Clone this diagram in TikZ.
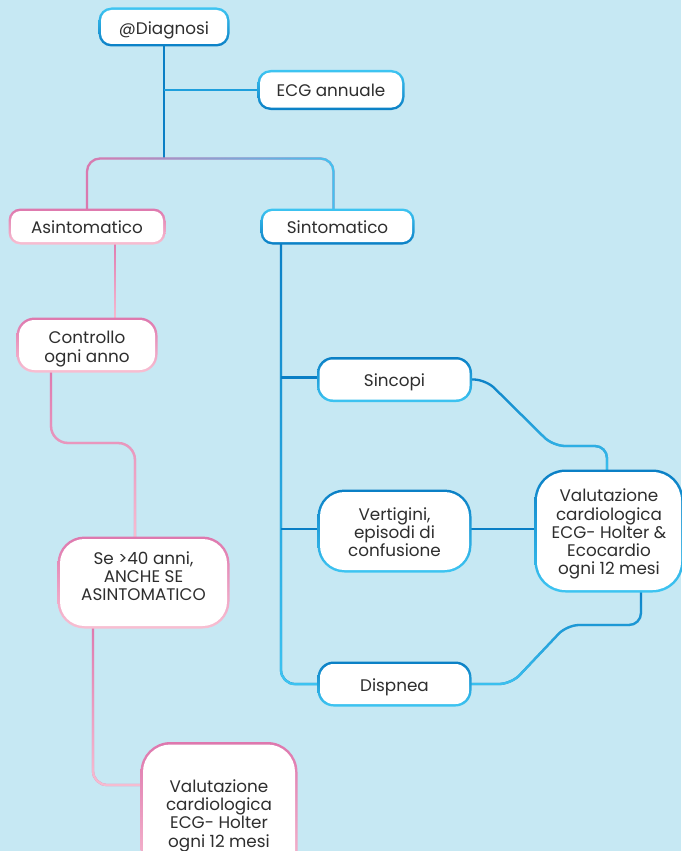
\documentclass[tikz,border=0pt]{standalone}
\usepackage{fontspec}
\setmainfont{Poppins}
\usetikzlibrary{fadings}
\definecolor{bg}{HTML}{C6E8F3}
\definecolor{pinkD}{HTML}{DE78AE}
\definecolor{pinkL}{HTML}{F8BFD2}
\definecolor{blueD}{HTML}{0A7FC5}
\definecolor{blueL}{HTML}{3EC5F2}
\definecolor{blueM}{HTML}{1E9FDC}
\definecolor{txt}{HTML}{2E2E2E}
\tikzfading[name=fTB, top color=transparent!100, bottom color=transparent!0]
\tikzfading[name=fLR, left color=transparent!100, right color=transparent!0]
\pgfdeclarelayer{background}
\pgfsetlayers{background,main}
\tikzset{
  boxfill/.style={fill=white, inner sep=0pt},
  boxtext/.style={inner sep=0pt, anchor=base, text=txt,
    font=\fontsize{16.8}{18.3}\selectfont},
  pinkring/.style={top color=pinkD, bottom color=pinkL},
  blueup/.style={top color=blueL, bottom color=blueD},
  bluedn/.style={top color=blueD, bottom color=blueL},
  conn/.style={line width=2.3pt},
  gl/.style n args={3}{conn, draw=#1, postaction={draw=#2, path fading=#3}},
}
% name, x, y, w, h, radius, ring style, first baseline, text
\newcommand\gbox[9]{%
  \shade[#7, rounded corners=#6pt]
    (#2-#4/2, #3-#5/2) rectangle (#2+#4/2, #3+#5/2);
  \node[boxfill, rounded corners=#6pt-2.5pt, minimum width=#4pt-5pt,
    minimum height=#5pt-5pt] (#1) at (#2,#3) {};
  \node[boxtext] at (#2,#8) {\begin{tabular}[t]{@{}c@{}}#9\end{tabular}};
}
\begin{document}
\begin{tikzpicture}[x=1pt,y=-1pt]
\begin{pgfonlayer}{background}
  \fill[bg] (0,0) rectangle (681,851);
\end{pgfonlayer}
\useasboundingbox (0,0) rectangle (681,851);

\gbox{diag}{164}{27}{131}{39}{13}{blueup}{34.7}{@Diagnosi}
\gbox{ecg}{331}{90}{147}{40}{13}{blueup}{96.3}{ECG annuale}
\gbox{asin}{87}{226.5}{157}{36}{12}{pinkring}{233.3}{Asintomatico}
\gbox{sint}{337.5}{226.5}{154}{36}{12}{blueup}{233.3}{Sintomatico}
\gbox{ctrl}{87}{345}{141}{55}{18}{pinkring}{343.7}{Controllo\\ogni anno}
\gbox{se}{143.5}{582.5}{172}{92}{27}{pinkring}{564}{Se >40 anni,\\ANCHE SE\\ASINTOMATICO}
\gbox{valL}{219}{814}{157}{144}{30}{pinkring}{792.3}{Valutazione\\cardiologica\\ECG- Holter\\ogni 12 mesi}
\gbox{sinc}{394.5}{379.5}{155}{45}{16}{bluedn}{386.7}{Sincopi}
\gbox{vert}{394.5}{531}{154}{83}{27}{bluedn}{520}{Vertigini,\\episodi di\\confusione}
\gbox{disp}{394.5}{684}{154}{45}{16}{bluedn}{691.3}{Dispnea}
\gbox{valR}{609}{531}{149}{123}{31}{bluedn}{501.7}{Valutazione\\cardiologica\\ECG- Holter \&\\Ecocardio\\ogni 12 mesi}

\begin{pgfonlayer}{background}
  \coordinate (bus) at (164,158.5);
  \coordinate (sintTop) at ([xshift=-4pt]sint.north);
  \coordinate (a1) at ([xshift=28pt]asin.south);
  \coordinate (c1) at ([xshift=-36pt]ctrl.south);
  \coordinate (s1) at ([xshift=-8.5pt]se.north);
  \coordinate (m1) at (0,443);
  \coordinate (s2) at ([xshift=-50.5pt]se.south);
  \coordinate (m2) at (0,785);
  \coordinate (t1) at ([xshift=-56.5pt]sint.south);
  \coordinate (b1) at ([yshift=2pt]sinc.west);
  \coordinate (b2) at ([yshift=2pt]vert.west);
  \coordinate (r1) at ([xshift=-2pt]valR.north);
  \coordinate (k1) at (553,446);
  \coordinate (r2) at ([xshift=32pt]valR.south);
  \coordinate (k2) at (567,625);

  % top
  \draw[conn, blueD] (diag.south) -- (bus);
  \draw[conn, blueM] (diag.south |- ecg.west) -- (ecg.west);
  \draw[gl={pinkD}{blueL}{fLR}, rounded corners=13pt]
    (asin.north) -- (asin.north |- bus) -- (sintTop |- bus) -- (sintTop)
    ([shift={(-5,-5)}]asin.north |- bus) ([shift={(5,5)}]sintTop);
  % left branch
  \draw[gl={pinkD}{pinkL}{fTB}]
    (a1) -- (a1 |- ctrl.north)
    ([shift={(-5,-3)}]a1) ([shift={(5,3)}]a1 |- ctrl.north);
  \draw[gl={pinkD}{pinkL}{fTB}, rounded corners=17pt]
    (c1) -- (c1 |- m1) -- (s1 |- m1) -- (s1)
    ([shift={(-5,-3)}]c1) ([shift={(5,3)}]s1);
  \draw[gl={pinkD}{pinkL}{fTB}, rounded corners=14pt]
    (s2) -- (s2 |- m2) -- (valL.west |- m2)
    ([shift={(-5,-3)}]s2) ([shift={(5,5)}]valL.west |- m2);
  % right branch
  \draw[gl={blueD}{blueL}{fTB}, rounded corners=14pt]
    (t1) -- (t1 |- disp.west) -- (disp.west)
    ([shift={(-5,-3)}]t1) ([shift={(5,5)}]disp.west);
  \draw[conn, blueD] (t1 |- b1) -- (b1);
  \draw[conn, blueD] (t1 |- b2) -- (b2);
  \draw[conn, blueD] (b2 -| vert.east) -- (b2 -| valR.west);
  \draw[gl={blueD}{blueL}{fTB}, rounded corners=12pt]
    (sinc.east) -- ([xshift=16pt]sinc.east) -- (k1) -- (r1 |- k1) -- (r1)
    ([shift={(-5,-5)}]sinc.east) ([shift={(5,5)}]r1);
  \draw[gl={blueD}{blueL}{fTB}, rounded corners=12pt]
    (r2) -- (r2 |- k2) -- (k2) -- ([xshift=42pt]disp.east) -- (disp.east)
    ([shift={(5,-3)}]r2) ([shift={(-5,5)}]disp.east);
\end{pgfonlayer}
\end{tikzpicture}
\end{document}
